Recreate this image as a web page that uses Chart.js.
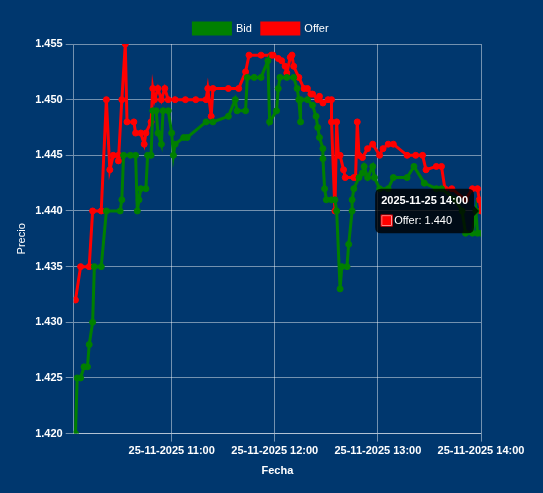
<!DOCTYPE html>
<html>
<head>
<meta charset="utf-8">
<script src="https://cdn.jsdelivr.net/npm/chart.js@4.4.1/dist/chart.umd.min.js"></script>
<style>
  html, body { margin: 0; padding: 0; background: #00376e; }
  #wrap { width: 543px; height: 493px; }
</style>
</head>
<body>
<div id="wrap"><canvas id="c" width="543" height="493"></canvas></div>
<script>
// ---- Data ----
const bidTimes = ["10:04","10:05","10:07","10:09","10:11","10:12","10:14","10:15","10:19","10:22","10:30","10:31","10:32","10:36","10:39","10:40","10:41","10:42","10:45","10:46","10:48","10:49","10:51","10:52","10:54","10:55","10:58","11:00","11:01","11:02","11:07","11:09","11:20","11:24","11:33","11:37","11:38","11:43","11:44","11:48","11:52","11:56","11:57","12:01","12:02","12:03","12:07","12:11","12:13","12:14","12:15","12:15","12:19","12:22","12:24","12:25","12:26","12:28","12:28","12:29","12:30","12:33","12:35","12:36","12:38","12:39","12:42","12:43","12:45","12:45","12:46","12:49","12:51","12:52","12:54","12:57","12:58","13:01","13:06","13:09","13:17","13:21","13:27","13:34","13:37","13:45","13:49","13:51","13:55","13:57","13:58","14:00"];
const bidValues = [1.420,1.425,1.425,1.426,1.426,1.428,1.430,1.435,1.435,1.440,1.440,1.441,1.445,1.445,1.445,1.440,1.441,1.442,1.442,1.445,1.445,1.449,1.449,1.447,1.446,1.449,1.449,1.447,1.445,1.446,1.4466,1.4466,1.448,1.448,1.4485,1.450,1.449,1.449,1.452,1.452,1.452,1.4535,1.448,1.449,1.451,1.452,1.452,1.452,1.451,1.450,1.448,1.450,1.450,1.4495,1.4485,1.4475,1.4466,1.4456,1.4447,1.442,1.441,1.441,1.441,1.440,1.433,1.435,1.435,1.437,1.440,1.441,1.442,1.443,1.4434,1.444,1.443,1.444,1.443,1.442,1.442,1.443,1.443,1.444,1.4425,1.442,1.442,1.441,1.440,1.438,1.438,1.440,1.438,1.438];

const offerTimes = ["10:04","10:07","10:12","10:14","10:19","10:22","10:24","10:26","10:29","10:29","10:31","10:33","10:34","10:38","10:39","10:42","10:44","10:45","10:48","10:49","10:50","10:52","10:54","10:56","10:58","11:02","11:08","11:14","11:20","11:21","11:23","11:24","11:33","11:39","11:43","11:45","11:52","11:58","11:59","12:02","12:04","12:06","12:07","12:09","12:10","12:11","12:14","12:17","12:19","12:21","12:22","12:25","12:26","12:28","12:31","12:33","12:33","12:35","12:36","12:37","12:38","12:40","12:41","12:46","12:47","12:48","12:49","12:51","12:54","12:57","13:01","13:03","13:06","13:09","13:17","13:22","13:26","13:28","13:34","13:37","13:39","13:43","13:51","13:55","13:58","13:59","14:00"];
const offerValues = [1.432,1.435,1.435,1.440,1.440,1.450,1.4437,1.445,1.445,1.4445,1.450,1.455,1.448,1.448,1.447,1.447,1.446,1.447,1.448,1.451,1.450,1.451,1.450,1.451,1.450,1.450,1.450,1.450,1.450,1.451,1.4485,1.451,1.451,1.451,1.4525,1.454,1.454,1.454,1.454,1.4537,1.4535,1.453,1.4524,1.4538,1.454,1.453,1.452,1.451,1.451,1.4505,1.4505,1.450,1.4503,1.4497,1.450,1.450,1.448,1.440,1.448,1.445,1.445,1.4437,1.443,1.443,1.443,1.448,1.445,1.4448,1.4456,1.446,1.445,1.4456,1.446,1.446,1.445,1.445,1.445,1.4437,1.444,1.444,1.442,1.442,1.441,1.442,1.442,1.441,1.440];

const xTickLabels = ["11:00","12:00","13:00","14:00"];
const xStart = "10:03";
const xEnd = "14:00";
const datePrefix = "25-11-2025";
const tooltipDate = "2025-11-25";

// ---- helpers ----
function toMin(s) { const p = s.split(":"); return (+p[0]) * 60 + (+p[1]); }
function fmt(m) { const h = Math.floor(m / 60), mm = Math.round(m - h * 60); return String(h).padStart(2, "0") + ":" + String(mm).padStart(2, "0"); }

const bidData = bidTimes.map((t, i) => ({ x: toMin(t), y: bidValues[i] }));
const offerData = offerTimes.map((t, i) => ({ x: toMin(t), y: offerValues[i] }));

Chart.defaults.font.family = "Arial, 'Liberation Sans', sans-serif";
Chart.defaults.font.size = 11;
Chart.defaults.color = "#ffffff";

const gridColor = "rgba(255,255,255,0.45)";

const chart = new Chart(document.getElementById("c"), {
  type: "line",
  data: {
    datasets: [
      { label: "Bid", data: bidData, borderColor: "#008000", backgroundColor: "#008000",
        borderWidth: 3, pointRadius: 3, pointBorderWidth: 1, pointBackgroundColor: "#008000", pointBorderColor: "#008000", tension: 0 },
      { label: "Offer", data: offerData, borderColor: "#ff0000", backgroundColor: "#ff0000",
        borderWidth: 3, pointRadius: 3, pointBorderWidth: 1, pointBackgroundColor: "#ff0000", pointBorderColor: "#ff0000", tension: 0 }
    ]
  },
  options: {
    responsive: false,
    animation: false,
    layout: { padding: { top: 13, left: 11, right: 32, bottom: 11 } },
    interaction: { mode: "nearest", intersect: true },
    plugins: {
      legend: {
        position: "top",
        labels: { color: "#ffffff", boxWidth: 37, font: { size: 11 } }
      },
      tooltip: {
        callbacks: {
          title: (items) => items.length ? tooltipDate + " " + fmt(items[0].parsed.x) : "",
          label: (item) => item.dataset.label + ": " + item.parsed.y.toFixed(3)
        }
      }
    },
    scales: {
      x: {
        type: "linear",
        min: toMin(xStart),
        max: toMin(xEnd),
        afterBuildTicks: (scale) => { scale.ticks = xTickLabels.map(t => ({ value: toMin(t) })); },
        afterFit: (scale) => { scale.paddingRight = 62; },
        ticks: {
          color: "#ffffff", font: { size: 11, weight: "bold" }, maxRotation: 0,
          callback: (v) => datePrefix + " " + fmt(v)
        },
        grid: { color: gridColor },
        border: { color: gridColor },
        title: { display: true, text: "Fecha", color: "#ffffff", font: { size: 11, weight: "bold" } }
      },
      y: {
        min: 1.42, max: 1.455,
        ticks: { stepSize: 0.005, color: "#ffffff", font: { size: 11, weight: "bold" },
          callback: (v) => Number(v).toFixed(3) },
        grid: { color: gridColor },
        border: { color: gridColor },
        title: { display: true, text: "Precio", color: "#ffffff", font: { size: 11 } }
      }
    }
  }
});

// show tooltip on last Offer point as in reference
const lastIdx = offerData.length - 1;
const pt = chart.getDatasetMeta(1).data[lastIdx];
chart.tooltip.setActiveElements([{ datasetIndex: 1, index: lastIdx }], { x: pt.x, y: pt.y });
chart.update();
</script>
</body>
</html>
